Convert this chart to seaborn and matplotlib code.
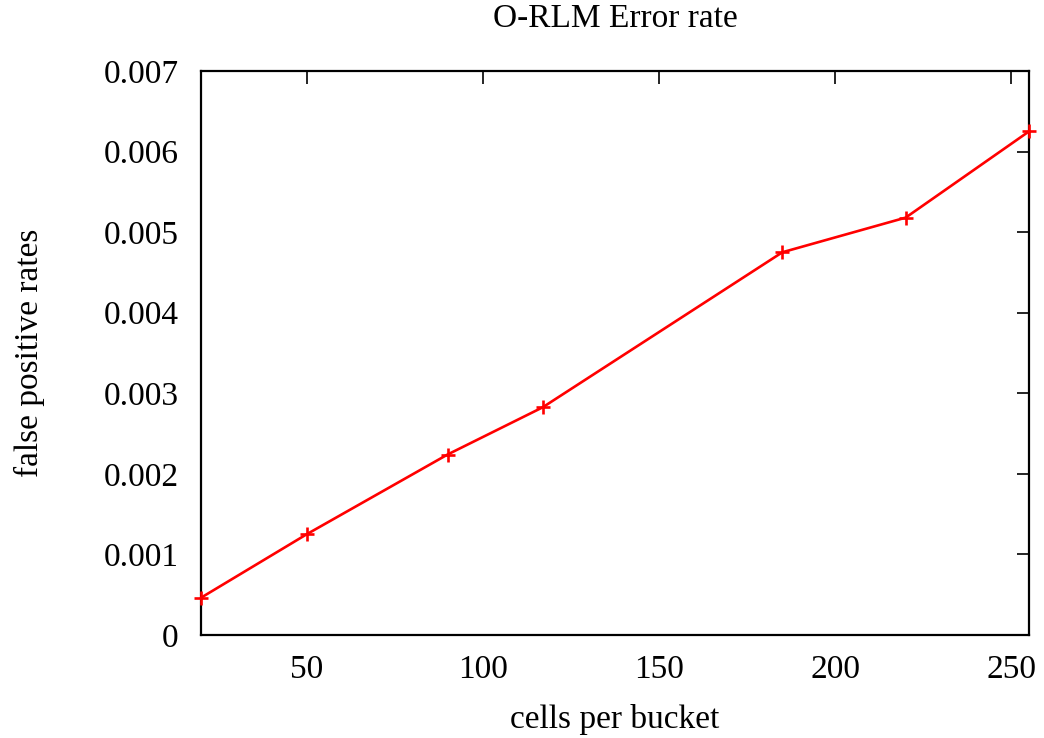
import pandas as pd
import matplotlib
matplotlib.use('Agg')
import matplotlib.pyplot as plt
import seaborn as sb

sb.set_style('white')
plt.rcParams['font.family'] = ['Liberation Serif', 'DejaVu Serif']
plt.rcParams['text.color'] = 'black'
plt.rcParams['axes.labelcolor'] = 'black'

# data
cells = [20, 50, 90, 117, 185, 220, 255]
fp_rate = [0.000462, 0.00125, 0.00224, 0.002826, 0.00475, 0.00518, 0.00625]
y_ticks = [0, 0.001, 0.002, 0.003, 0.004, 0.005, 0.006, 0.007]
y_labels = ['0', '0.001', '0.002', '0.003', '0.004', '0.005', '0.006', '0.007']
x_ticks = [50, 100, 150, 200, 250]

df = pd.DataFrame({'cells': cells, 'rate': fp_rate})

fig = plt.figure(figsize=(10.44, 7.38), dpi=100)
ax = fig.add_axes([0.1925, 0.1396, 0.7931, 0.7642])

sb.lineplot(data=df, x='cells', y='rate', ax=ax, color='#ff0000', linewidth=1.9,
            marker='+', markersize=10, markeredgewidth=1.9, markeredgecolor='#ff0000',
            clip_on=False, zorder=5)

ax.set_xlim(20, 255)
ax.set_ylim(0, 0.007)
ax.set_xticks(x_ticks)
ax.set_yticks(y_ticks)
ax.set_yticklabels(y_labels)
ax.tick_params(direction='in', length=9, width=1.2, labelsize=24, top=True, right=True,
               pad=16, colors='black')
ax.tick_params(axis='x', pad=14)
for s in ax.spines.values():
    s.set_linewidth(1.6)
    s.set_color('black')

ax.set_title('O-RLM Error rate', fontsize=24, pad=32, color='black')
ax.set_xlabel('cells per bucket', fontsize=24, labelpad=14)
ax.set_ylabel('false positive rates', fontsize=24, labelpad=42)

fig.savefig('out.png', dpi=100)
